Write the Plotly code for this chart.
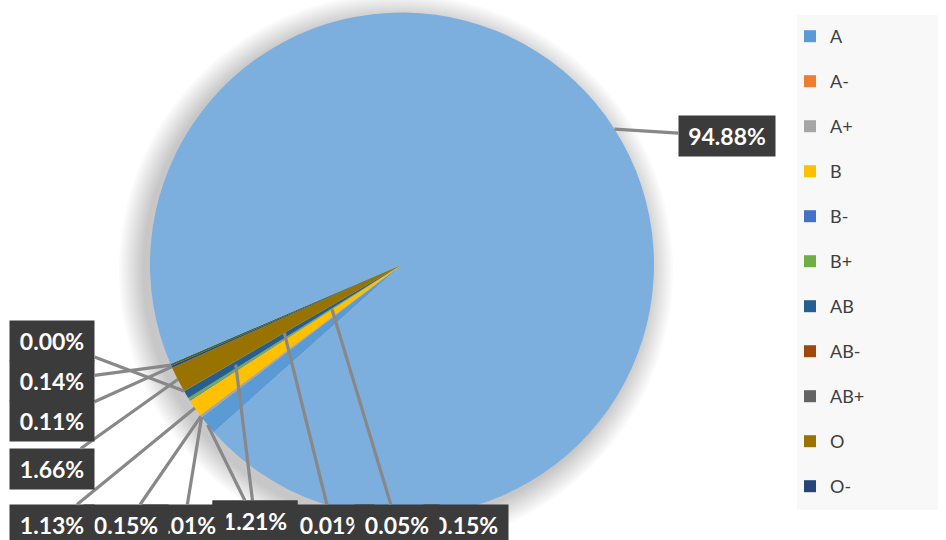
import math
import plotly.graph_objects as go

# ---------------- data ----------------
categories = ["A", "A-", "A+", "B", "B-", "B+", "AB", "AB-", "AB+", "O", "O-", "O+", "Unknown"]
shares = [1.21, 0.01, 0.15, 1.13, 0.05, 0.15, 0.50, 0.01, 0.00, 1.66, 0.11, 0.14, 94.88]
legend_categories = categories[:11]   # the reference legend is truncated after "O-"

# ---------------- style ----------------
colors = ["#5B9BD5", "#ED7D31", "#A5A5A5", "#FFC000", "#4472C4", "#70AD47",
          "#255E91", "#9E480E", "#636363", "#997300", "#264478", "#43682B", "#7CAFDD"]
W, H = 946, 540
CX, CY, RAD = 402, 264.5, 252          # pie centre / radius in pixels
ROT = 228.3                             # start angle of first slice (deg, clockwise from 12 o'clock)
# label box centre (px) and leader-line anchor as fraction of radius (None = no line); dict order = draw order
label_style = {
    "AB": (255, 521, 0.77),
    "A": (255, 521, 1.0),
    "B+": (466, 525, None),
    "A-": (184, 525, 1.0),
    "AB-": (332, 525, 0.54),
    "B-": (397, 525, 0.33),
    "A+": (126, 525, 1.0),
    "B": (52, 525, 1.0),
    "O": (52, 469, 1.0),
    "O-": (52, 421, 1.0),
    "O+": (52, 381, 1.0),
    "AB+": (52, 341, 1.0),
    "Unknown": (727, 136, 1.0),
}

fig = go.Figure()

rot_plotly = ROT - 360 if ROT > 180 else ROT
fig.add_trace(go.Pie(
    labels=categories, values=shares, sort=False, direction="clockwise",
    rotation=rot_plotly, textinfo="none", showlegend=False,
    marker=dict(colors=colors, line=dict(width=0)),
    domain=dict(x=[(CX - RAD) / W, (CX + RAD) / W],
                y=[1 - (CY + RAD) / H, 1 - (CY - RAD) / H]),
    hovertemplate="%{label}: %{percent}<extra></extra>",
))

# legend entries (square markers)
for i, name in enumerate(legend_categories):
    fig.add_trace(go.Scatter(
        x=[None], y=[None], mode="markers", name=name, legendgroup=name,
        marker=dict(symbol="square", size=12, color=colors[i]),
        showlegend=True, hoverinfo="skip",
    ))

# slice mid angles from the data
total = sum(shares)
mid_angle = {}
cum = 0.0
for name, v in zip(categories, shares):
    mid_angle[name] = ROT + 360.0 * (cum + v / 2) / total
    cum += v

annotations = []
for name, (lx, ly, rf) in label_style.items():
    v = shares[categories.index(name)]
    text = f"{v:.2f}%"
    common = dict(text=text, bgcolor="#3B3B3B", borderpad=6,
                  width=72 if len(text) == 5 else 84,
                  font=dict(family="Lato", size=23, color="white", weight="bold"),
                  xref="paper", yref="paper")
    if rf is None:
        annotations.append(dict(x=lx / W, y=1 - ly / H, showarrow=False,
                                xanchor="center", yanchor="middle", **common))
    else:
        th = math.radians(mid_angle[name])
        tx = CX + RAD * rf * math.sin(th)
        ty = CY - RAD * rf * math.cos(th)
        annotations.append(dict(x=tx / W, y=1 - ty / H, showarrow=True,
                                ax=lx - tx, ay=ly - ty, axref="pixel", ayref="pixel",
                                arrowhead=0, arrowwidth=3.2, arrowcolor="#888888",
                                standoff=0, **common))

shapes = []
# legend background
shapes.append(dict(type="rect", xref="paper", yref="paper", layer="below",
                   x0=797 / W, x1=938 / W, y0=1 - 510 / H, y1=1 - 15 / H,
                   fillcolor="#F8F8F8", line=dict(width=0)))
# soft shadow around the pie
for k in range(1, 15):
    r = RAD + 1.8 * k
    sx, sy = CX - 6, CY + 6
    shapes.append(dict(type="circle", xref="paper", yref="paper", layer="below",
                       x0=(sx - r) / W, x1=(sx + r) / W,
                       y0=1 - (sy + r) / H, y1=1 - (sy - r) / H,
                       fillcolor="rgba(0,0,0,0.015)", line=dict(width=0)))

fig.update_layout(
    width=W, height=H, margin=dict(l=0, r=0, t=0, b=0),
    paper_bgcolor="white", plot_bgcolor="rgba(0,0,0,0)",
    xaxis=dict(visible=False), yaxis=dict(visible=False),
    annotations=annotations, shapes=shapes,
    legend=dict(x=790 / W, y=1 - 18 / H, xanchor="left", yanchor="top",
                bgcolor="rgba(0,0,0,0)", traceorder="grouped", tracegroupgap=18.6,
                font=dict(family="Lato", size=18, color="#404040"), itemwidth=30),
)

fig.write_html("out.html", config={"displayModeBar": False},
               post_script="document.body.style.margin='0';")
